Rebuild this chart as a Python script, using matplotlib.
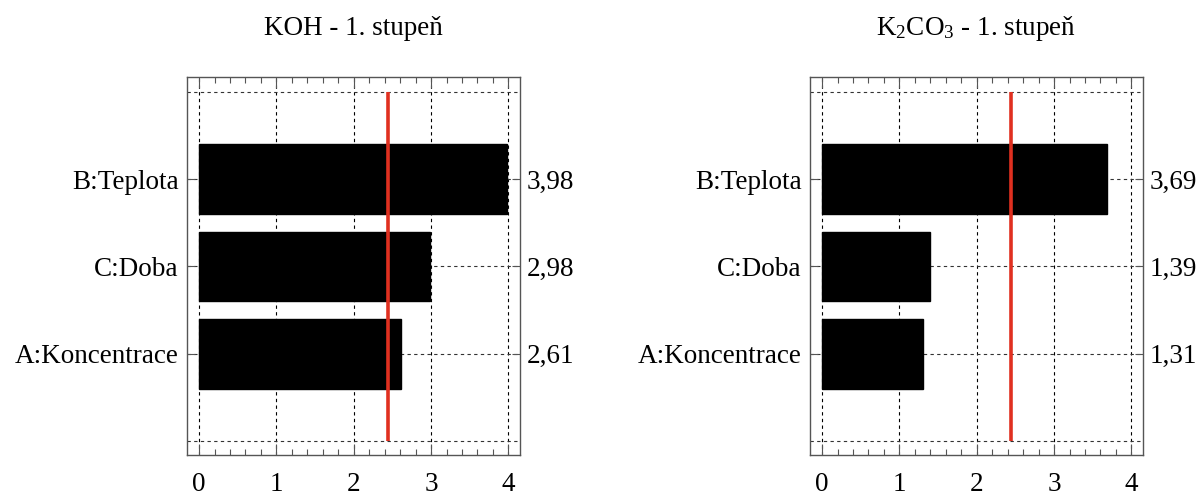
import matplotlib
matplotlib.use("Agg")
import matplotlib.pyplot as plt
from matplotlib.ticker import MultipleLocator

plt.rcParams['font.family'] = ['Liberation Serif', 'DejaVu Serif']
plt.rcParams['mathtext.fontset'] = 'custom'
plt.rcParams['mathtext.rm'] = 'Liberation Serif'
plt.rcParams['mathtext.it'] = 'Liberation Serif:italic'

factors = ["A:Koncentrace", "C:Doba", "B:Teplota"]
koh_values = [2.61, 2.98, 3.98]
k2co3_values = [1.31, 1.39, 3.69]
titles = ["KOH - 1. stupeň", r"$\mathregular{K_2CO_3}$ - 1. stupeň"]
critical_t = 2.447
x_ticks = [0, 1, 2, 3, 4]

FS = 19.5
fig = plt.figure(figsize=(11.99, 4.96), dpi=100)
positions = [[0.156, 0.0827, 0.2777, 0.762], [0.6756, 0.0827, 0.2777, 0.762]]
frame_col = '#555555'

for pos, vals, title in zip(positions, [koh_values, k2co3_values], titles):
    ax = fig.add_axes(pos)
    y = list(range(len(factors)))
    ax.set_xlim(-0.155, 4.15)
    ax.set_ylim(-1.16, 3.17)
    # grid
    for xv in x_ticks:
        ax.axvline(xv, color='black', lw=0.8, ls=(0, (3, 3)), zorder=0)
    for yv in [-1] + y + [3]:
        ax.axhline(yv, color='#333333', lw=0.8, ls=(0, (3, 3)), zorder=0)
    ax.barh(y, vals, height=0.8, color='black', edgecolor='black', zorder=2)
    ax.vlines(critical_t, -1, 3, color='#e03020', lw=2.6, zorder=3)
    ax.set_yticks(y)
    ax.set_yticklabels(factors, fontsize=FS)
    ax.set_xticks(x_ticks)
    ax.set_xticklabels([str(v) for v in x_ticks], fontsize=FS)
    ax.xaxis.set_minor_locator(MultipleLocator(0.2))
    ax.tick_params(axis='x', which='major', direction='in', length=8, width=0.8,
                   top=True, bottom=True, pad=12, color=frame_col)
    ax.tick_params(axis='x', which='minor', direction='in', length=4, width=0.8,
                   top=True, bottom=True, color=frame_col)
    ax.tick_params(axis='y', which='major', direction='in', length=6, width=0.8,
                   pad=6, color=frame_col)
    for s in ax.spines.values():
        s.set_color(frame_col)
        s.set_linewidth(1.0)
    ax2 = ax.twinx()
    ax2.set_ylim(ax.get_ylim())
    ax2.set_yticks(y)
    ax2.set_yticklabels([f"{v:.2f}".replace('.', ',') for v in vals], fontsize=FS)
    ax2.tick_params(axis='y', direction='in', length=6, width=0.8, pad=5, color=frame_col)
    for s in ax2.spines.values():
        s.set_visible(False)
    ax.set_title(title, fontsize=FS, pad=30)

fig.savefig("out.png", dpi=100)
